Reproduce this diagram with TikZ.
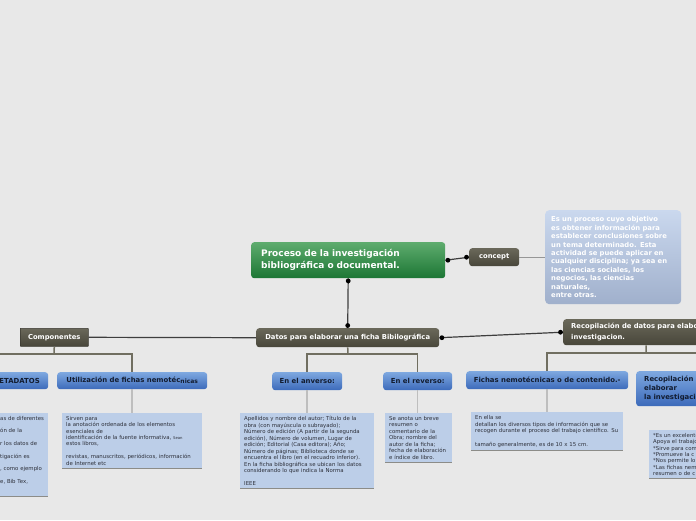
\documentclass[tikz,border=0pt]{standalone}
\usepackage{fontspec}
\setmainfont{DejaVu Sans}
\usetikzlibrary{calc}
\definecolor{bgc}{RGB}{232,232,232}
\definecolor{gtop}{RGB}{94,172,110}
\definecolor{gbot}{RGB}{28,118,52}
\definecolor{dtop}{RGB}{106,104,90}
\definecolor{dbot}{RGB}{72,70,58}
\definecolor{dline}{RGB}{58,56,48}
\definecolor{btop}{RGB}{126,168,224}
\definecolor{bbot}{RGB}{60,106,186}
\definecolor{btext}{RGB}{18,28,48}
\definecolor{notefill}{RGB}{188,206,232}
\definecolor{notetext}{RGB}{45,48,58}
\definecolor{noteedge}{RGB}{140,140,136}
\definecolor{ctop}{RGB}{202,216,238}
\definecolor{cbot}{RGB}{160,176,204}
\definecolor{mainline}{RGB}{62,62,62}
\definecolor{treeline}{RGB}{112,110,96}
\definecolor{stubline}{RGB}{190,190,190}
\tikzset{
  greennode/.style={top color=gtop, bottom color=gbot, rounded corners=3pt, text=white,
    font=\bfseries\fontsize{9}{12}\selectfont, align=left, inner ysep=2pt},
  darknode/.style={top color=dtop, bottom color=dbot, rounded corners=3pt, text=white,
    font=\bfseries\fontsize{6.8}{8}\selectfont, inner sep=1pt},
  bluehead/.style={top color=btop, bottom color=bbot, rounded corners=3pt, text=btext,
    font=\bfseries\fontsize{6.9}{8}\selectfont, inner sep=1pt},
  conceptbox/.style={top color=ctop, bottom color=cbot, rounded corners=4pt, text=white,
    font=\bfseries\fontsize{6.8}{8.4}\selectfont, align=left},
  notebox/.style={fill=notefill, text=notetext, anchor=north west, align=left,
    inner xsep=4pt, inner ysep=3pt},
  notefont/.style={font=\fontsize{5.4}{6.5}\selectfont},
  edgeline/.style={draw=noteedge, line width=1pt},
  plainconn/.style={draw=mainline, line width=1.2pt},
  dotmark/.style={fill=black},
  treeconn/.style={draw=treeline, line width=1.5pt},
  stubconn/.style={draw=stubline, line width=1.5pt},
  greyconn/.style={draw={rgb,255:red,150;green,150;blue,150}, line width=1pt}
}
\begin{document}
\begin{tikzpicture}[x=1pt,y=-1pt]
\useasboundingbox (0,0) rectangle (696,520);
\clip (0,0) rectangle (696,520);
\fill[bgc] (0,0) rectangle (696,520);

% main nodes
\node[greennode, anchor=north west, minimum height=36pt, text width=174pt, inner xsep=10pt] (main) at (251,242)
  {Proceso de la investigación\\bibliográfica o documental.};
\node[darknode, anchor=north west, minimum width=50pt, minimum height=18pt] (concept) at (469,248) {concept};
\node[conceptbox, anchor=north west, text width=124pt, inner xsep=6pt, minimum height=94pt] (cbox) at (545,210)
  {Es un proceso cuyo objetivo\\es obtener información para\\establecer conclusiones sobre\\un tema determinado. Esta\\actividad se puede aplicar en\\cualquier disciplina; ya sea en\\las ciencias sociales, los\\negocios, las ciencias\\naturales,\\entre otras.};
\node[darknode, anchor=north west, minimum width=183pt, minimum height=19pt] (datos) at (256,328)
  {Datos para elaborar una ficha Bibilográfica};
\node[darknode, rounded corners=0.5pt, draw=dline, line width=0.6pt, anchor=north west, minimum width=68pt, minimum height=18pt] (comp) at (20,328)
  {Componentes};
\node[darknode, anchor=north west, text width=150pt, inner xsep=8pt, minimum height=26pt, align=left,
  font=\bfseries\fontsize{6.8}{10.5}\selectfont] (recop) at (563,319)
  {Recopilación de datos para elaborar la\\investigacion.};

% blue headers
\node[bluehead, anchor=north west, minimum width=64pt, minimum height=17pt] (meta) at (-16,372) {METADATOS};
\node[bluehead, anchor=north west, minimum width=150pt, minimum height=17pt] (util) at (57,372)
  {Utilización de fichas nemotéc{\fontsize{6}{6}\selectfont\raisebox{-1pt}{nicas}}};
\node[bluehead, anchor=north west, minimum width=70pt, minimum height=18pt] (anv) at (272,372) {En el anverso:};
\node[bluehead, anchor=north west, minimum width=69pt, minimum height=18pt] (rev) at (383,372) {En el reverso:};
\node[bluehead, anchor=north west, minimum width=162pt, minimum height=18pt] (fichas) at (466,371)
  {Fichas nemotécnicas o de contenido.-};
\node[bluehead, anchor=north west, text width=114pt, inner xsep=8pt, minimum height=35pt, align=left,
  font=\bfseries\fontsize{6.9}{9}\selectfont] (rchild) at (636,371)
  {Recopilación de fichas para\\elaborar\\la investigación};

% notes
\node[notebox, text width=44pt, font=\fontsize{5.4}{12.6}\selectfont] (metanote) at (-4,413)
  {as de diferentes\\ón de la\\r los datos de\\tigación es\\, como ejemplo\\e, Bib Tex,\\[-3pt]\mbox{}};
\node[notebox, text width=132pt, font=\fontsize{5.4}{6.4}\selectfont] (utilnote) at (62,413)
  {Sirven para\\la anotación ordenada de los elementos\\esenciales de\\identificación de la fuente informativa, {\fontsize{3.8}{4}\selectfont Sean}\\estos libros,\\\mbox{}\\revistas, manuscritos, periódicos, información\\de Internet etc};
\node[notebox, notefont, text width=126pt] (anvnote) at (240,413)
  {Apellidos y nombre del autor; Título de la\\obra (con mayúscula o subrayado);\\Número de edición (A partir de la segunda\\edición), Número de volumen, Lugar de\\edición; Editorial (Casa editora); Año;\\Número de páginas; Biblioteca donde se\\encuentra el libro (en el recuadro inferior).\\En la ficha bibliográfica se ubican los datos\\considerando lo que indica la Norma\\\mbox{}\\IEEE};
\node[notebox, notefont, text width=59pt] (revnote) at (385,413)
  {Se anota un breve\\resumen o\\comentario de la\\Obra; nombre del\\autor de la ficha;\\fecha de elaboración\\e índice de libro.};
\node[notebox, text width=144pt, font=\fontsize{5.4}{6.7}\selectfont] (fichnote) at (471,412)
  {En ella se\\detallan los diversos tipos de información que se\\recogen durante el proceso del trabajo científico. Su\\\mbox{}\\tamaño generalmente, es de 10 x 15 cm.};
\node[notebox, text width=70pt, font=\fontsize{5.4}{6.4}\selectfont] (rnote) at (649,430)
  {*Es un excelente\\{}Apoya el trabajo\\{}*Sirve para com\\{}*Promueve la c\\{}*Nos permite lo\\{}*Las fichas nem\\{}resumen o de c};

% note bottom edges
\foreach \n in {metanote,utilnote,anvnote,revnote,fichnote,rnote}
  \draw[edgeline] (\n.south west) -- (\n.south east);

% main connectors
\draw[plainconn] (main.east) -- (concept.west);
\fill[dotmark] ($(main.east)+(2.5,0)$) circle (2.4pt) ($(concept.west)+(-2.5,0)$) circle (2.4pt);
\draw[plainconn] (main.south) -- (datos.north);
\fill[dotmark] ($(main.south)+(0,2.5)$) circle (2.4pt) ($(datos.north)+(0,-2.5)$) circle (2.4pt);
\draw[plainconn] (datos.east) -- (recop.west);
\fill[dotmark] ($(datos.east)+(2.5,0)$) circle (2.4pt) ($(recop.west)+(-2.5,0)$) circle (2.4pt);
\draw[plainconn] (datos.west) -- (comp.east);
\draw[greyconn] (concept.east) -- (cbox.west |- concept.east);

% tree connectors
\coordinate (cj) at (54,354);
\coordinate (mj) at (-40,354);
\draw[treeconn] (comp.south) -- (cj);
\draw[treeconn] (mj) -- (cj) -| (util.north);
\coordinate (dj) at (348,354);
\draw[treeconn] (datos.south) -- (dj);
\draw[treeconn] (anv.north) |- (dj) -| (rev.north);
\coordinate (rj) at (646,353);
\draw[treeconn] (recop.south) -- (rj);
\draw[treeconn] (fichas.north) |- (rj) -| (rchild.north);

% stubs
\draw[stubconn] (util.south) -- (util.south |- utilnote.north);
\draw[stubconn] (anv.south) -- (anv.south |- anvnote.north);
\draw[stubconn] (rev.south) -- (rev.south |- revnote.north);
\draw[stubconn] (fichas.south) -- (fichas.south |- fichnote.north);
\end{tikzpicture}
\end{document}
